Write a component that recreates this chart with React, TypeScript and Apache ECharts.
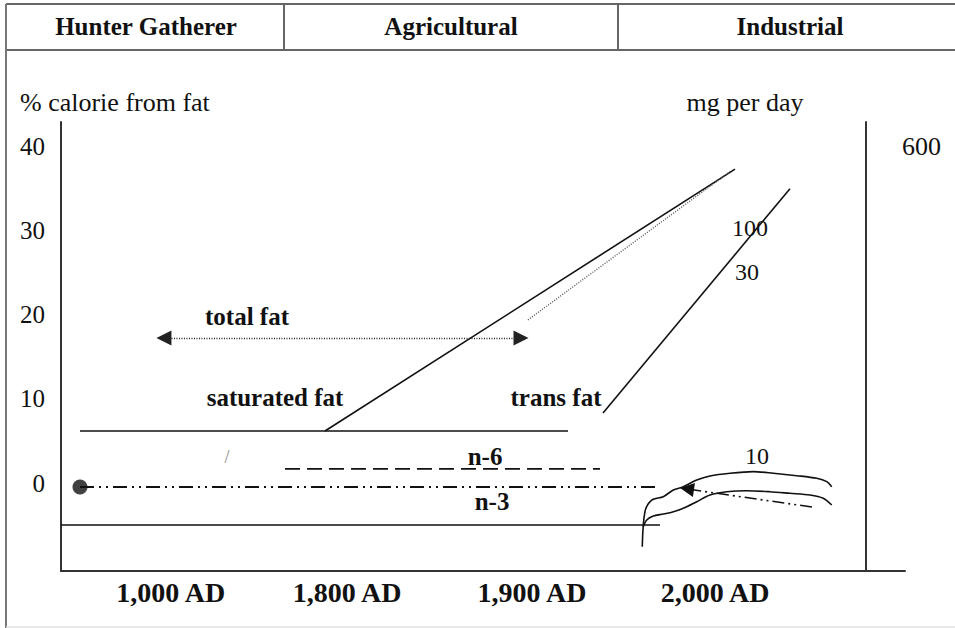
import { useEffect, useRef } from 'react';
import * as echarts from 'echarts';

// ---- axis ticks ----
const xTickValues = [13.0, 33.9, 55.8, 77.5];
const xTickLabels = ['1,000 AD', '1,800 AD', '1,900 AD', '2,000 AD'];
const yTickValues = [0, 10, 20, 30, 40];
const rightTickValues = [40];
const rightTickLabels = ['600'];
const eras = ['Hunter Gatherer', 'Agricultural', 'Industrial'];

// ---- schematic series (axis units) ----
const baseline = [[0, -4.96], [70.97, -4.96]];
const saturatedFatBase = [[2.25, 6.2], [60.07, 6.2]];
const saturatedFatRise = [[31.28, 6.2], [79.86, 37.3]];
const totalFatRise = [[55.33, 19.4], [79.27, 37.0]];
const totalFatSpan = [[12.2, 17.24], [54.5, 17.24]];
const transFat = [[64.22, 8.34], [86.37, 34.98]];
const n6 = [[26.54, 1.69], [63.86, 1.69]];
const n3 = [[2.25, -0.45], [70.73, -0.45]];
const n3Modern = [[88.98, -2.83], [74.17, -0.69]];
const modernUpper = [
  [68.87, -7.54], [69.19, -3.38], [69.99, -2.0], [71.36, -1.6], [72.55, -0.81],
  [73.73, -0.42], [75.32, 0.38], [76.9, 0.86], [79.27, 1.18], [82.03, 1.37],
  [84.4, 1.18], [87.17, 0.89], [89.54, 0.58], [90.73, 0.18], [91.32, -0.42],
];
const modernLower = [
  [68.99, -5.17], [69.4, -4.37], [70.18, -3.9], [71.36, -3.66], [72.55, -3.38],
  [73.73, -2.98], [75.32, -2.2], [76.9, -1.4], [78.87, -1.01], [81.24, -0.89],
  [84.0, -1.01], [86.37, -1.2], [88.74, -1.4], [90.32, -1.79], [91.32, -2.59],
];

// ---- annotations (axis units) ----
const boldLabels = ['total fat', 'saturated fat', 'trans fat', 'n-6', 'n-3'];
const boldLabelPositions = [[22.04, 19.74], [25.36, 10.12], [58.65, 10.12], [50.24, 3.12], [51.07, -2.23]];
const plainLabels = ['100', '30', '10'];
const plainLabelPositions = [[81.64, 30.31], [81.28, 25.08], [82.46, 3.23]];
const markLabels = ['/'];
const markLabelPositions = [[19.67, 3.12]];

const SERIF = "'Liberation Serif', 'Times New Roman', serif";
const INK = '#111111';

export default function App() {
  const ref = useRef<HTMLDivElement>(null);

  useEffect(() => {
    document.body.style.margin = '0';
    const chart = echarts.init(ref.current!, undefined, { renderer: 'svg' });

    const solid = (data: number[][], extra: any = {}) => ({
      type: 'line',
      data,
      symbol: 'none',
      silent: true,
      clip: false,
      lineStyle: { color: INK, width: 1.6, type: 'solid' },
      ...extra,
    });

    const frame: any[] = [
      { type: 'line', shape: { x1: 6, y1: 4, x2: 955, y2: 4 }, style: { stroke: '#666', lineWidth: 2 } },
      { type: 'line', shape: { x1: 6, y1: 50, x2: 955, y2: 50 }, style: { stroke: '#666', lineWidth: 2 } },
      { type: 'line', shape: { x1: 6, y1: 4, x2: 6, y2: 628 }, style: { stroke: '#777', lineWidth: 2 } },
      { type: 'line', shape: { x1: 284, y1: 4, x2: 284, y2: 50 }, style: { stroke: '#666', lineWidth: 2 } },
      { type: 'line', shape: { x1: 618, y1: 4, x2: 618, y2: 50 }, style: { stroke: '#666', lineWidth: 2 } },
      { type: 'line', shape: { x1: 6, y1: 627, x2: 955, y2: 627 }, style: { stroke: '#e2e2e2', lineWidth: 1.5 } },
      ...eras.map((t, i) => ({
        type: 'text',
        x: [146, 451, 790][i],
        y: 26,
        style: { text: t, font: `bold 25px ${SERIF}`, fill: INK, align: 'center', verticalAlign: 'middle' },
      })),
      {
        type: 'text',
        x: 20,
        y: 102,
        style: { text: '% calorie from fat', font: `26px ${SERIF}`, fill: INK, align: 'left', verticalAlign: 'middle' },
      },
      {
        type: 'text',
        x: 745,
        y: 102,
        style: { text: 'mg per day', font: `26px ${SERIF}`, fill: INK, align: 'center', verticalAlign: 'middle' },
      },
    ];

    const option: any = {
      animation: false,
      backgroundColor: '#ffffff',
      grid: { left: 61, right: 50, top: 122, bottom: 57, outerBoundsMode: 'none' },
      xAxis: {
        type: 'value',
        min: 0,
        max: 100,
        splitLine: { show: false },
        axisTick: { show: false },
        axisLine: { onZero: false, lineStyle: { color: '#333', width: 2 } },
        axisLabel: {
          customValues: xTickValues,
          formatter: (v: number) => {
            const i = xTickValues.findIndex((t) => Math.abs(t - v) < 1e-6);
            return i >= 0 ? xTickLabels[i] : '';
          },
          fontFamily: SERIF,
          fontWeight: 'bold',
          fontSize: 28,
          color: INK,
          margin: 7,
        },
      },
      yAxis: [
        {
          type: 'value',
          min: -10.43,
          max: 42.9,
          splitLine: { show: false },
          axisTick: { show: false },
          axisLine: { show: true, onZero: false, lineStyle: { color: '#333', width: 2 } },
          axisLabel: {
            customValues: yTickValues,
            formatter: (v: number) => String(Math.round(v)),
            fontFamily: SERIF,
            fontSize: 25,
            color: INK,
            margin: 16,
          },
        },
        {
          type: 'value',
          position: 'right',
          offset: -39,
          min: -10.43,
          max: 42.9,
          splitLine: { show: false },
          axisTick: { show: false },
          axisLine: { show: true, onZero: false, lineStyle: { color: '#333', width: 2 } },
          axisLabel: {
            customValues: rightTickValues,
            formatter: (v: number) => {
              const i = rightTickValues.findIndex((t) => Math.abs(t - v) < 1e-6);
              return i >= 0 ? rightTickLabels[i] : '';
            },
            fontFamily: SERIF,
            fontSize: 26,
            color: INK,
            margin: 36,
          },
        },
      ],
      series: [
        solid(baseline),
        solid(saturatedFatBase),
        solid(saturatedFatRise),
        solid(totalFatRise, { lineStyle: { color: '#555', width: 1.4, type: [1, 1.5] } }),
        solid(transFat),
        solid(n6, { lineStyle: { color: INK, width: 1.8, type: [15, 7] } }),
        solid(n3, { lineStyle: { color: INK, width: 1.8, type: [14, 5, 2, 5, 2, 5] } }),
        {
          type: 'scatter',
          silent: true,
          data: [n3[0]],
          symbol: 'circle',
          symbolSize: 15,
          itemStyle: { color: INK },
          z: 4,
        },
        solid(modernUpper, { smooth: 0.3 }),
        solid(modernLower, { smooth: 0.3 }),
        {
          type: 'lines',
          coordinateSystem: 'cartesian2d',
          silent: true,
          polyline: false,
          symbol: ['triangle', 'triangle'],
          symbolSize: 15,
          lineStyle: { color: '#222', width: 1.4, type: [1, 1.5], curveness: 0, opacity: 1 },
          data: [{ coords: totalFatSpan }],
          z: 3,
        },
        {
          type: 'lines',
          coordinateSystem: 'cartesian2d',
          silent: true,
          polyline: false,
          symbol: ['none', 'triangle'],
          symbolSize: 14,
          lineStyle: { color: INK, width: 1.6, type: [12, 4, 2, 4, 2, 4], curveness: 0, opacity: 1 },
          data: [{ coords: n3Modern }],
          z: 3,
        },
      ],
      graphic: frame,
    };

    chart.setOption(option);

    // annotations placed through the chart's own axes
    const place = (names: string[], pos: number[][], font: string, fill: string) =>
      names.map((t, i) => {
        const [px, py] = chart.convertToPixel({ gridIndex: 0 }, pos[i]) as number[];
        return {
          type: 'text',
          x: px,
          y: py,
          z: 10,
          style: { text: t, font, fill, align: 'center', verticalAlign: 'middle' },
        };
      });

    chart.setOption({
      graphic: [
        ...frame,
        ...place(boldLabels, boldLabelPositions, `bold 25px ${SERIF}`, INK),
        ...place(plainLabels, plainLabelPositions, `24px ${SERIF}`, INK),
        ...place(markLabels, markLabelPositions, `18px ${SERIF}`, '#888'),
      ],
    });

    return () => chart.dispose();
  }, []);

  return <div ref={ref} style={{ width: 955, height: 628 }} />;
}
